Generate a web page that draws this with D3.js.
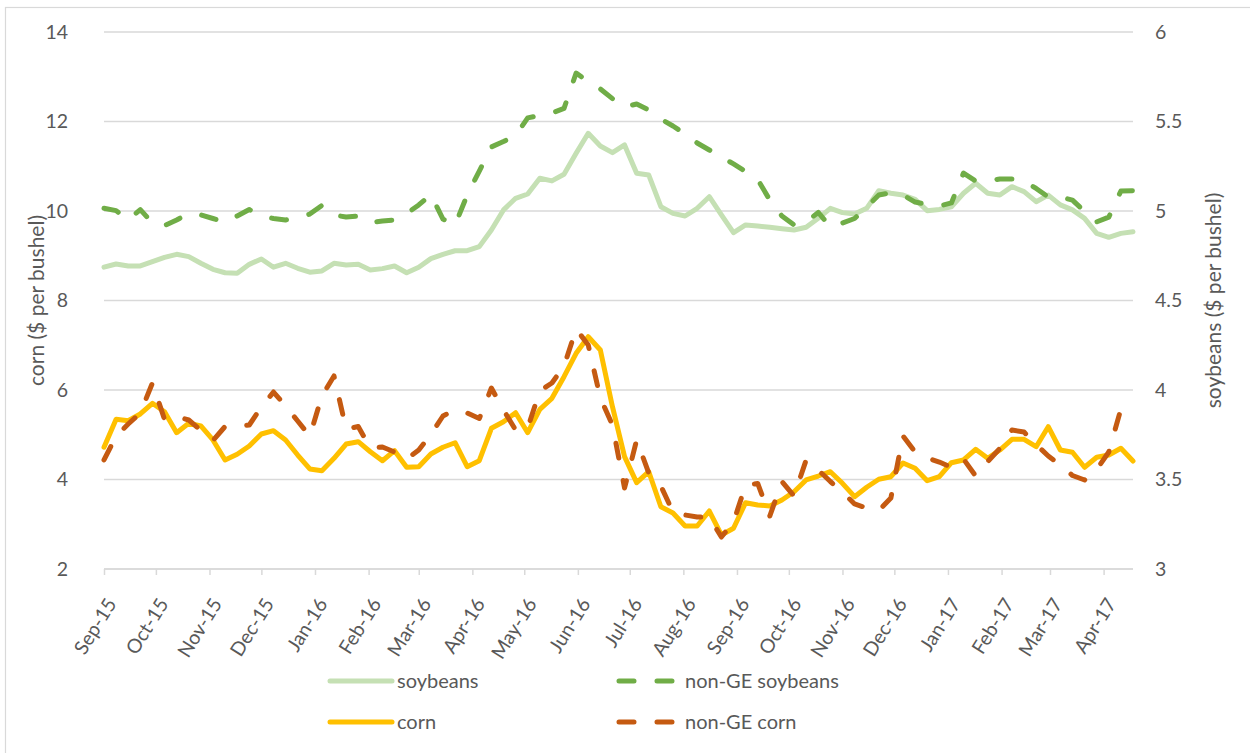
<!DOCTYPE html>
<html>
<head>
<meta charset="utf-8">
<script src="https://cdn.jsdelivr.net/npm/d3@7"></script>
<style>
  html, body { margin: 0; padding: 0; background: #ffffff; }
  svg { display: block; font-family: "Lato", "Liberation Sans", sans-serif; }
  text { fill: #595959; }
</style>
</head>
<body>
<svg id="chart" width="1250" height="753"></svg>
<script>
// Weekly price observations (Fridays)
const weeks = [
  "2015-09-04","2015-09-11","2015-09-18","2015-09-25","2015-10-02","2015-10-09","2015-10-16","2015-10-23","2015-10-30",
  "2015-11-06","2015-11-13","2015-11-20","2015-11-27","2015-12-04","2015-12-11","2015-12-18","2015-12-25",
  "2016-01-01","2016-01-08","2016-01-15","2016-01-22","2016-01-29","2016-02-05","2016-02-12","2016-02-19","2016-02-26",
  "2016-03-04","2016-03-11","2016-03-18","2016-03-25","2016-04-01","2016-04-08","2016-04-15","2016-04-22","2016-04-29",
  "2016-05-06","2016-05-13","2016-05-20","2016-05-27","2016-06-03","2016-06-10","2016-06-17","2016-06-24",
  "2016-07-01","2016-07-08","2016-07-15","2016-07-22","2016-07-29","2016-08-05","2016-08-12","2016-08-19","2016-08-26",
  "2016-09-02","2016-09-09","2016-09-16","2016-09-23","2016-09-30","2016-10-07","2016-10-14","2016-10-21","2016-10-28",
  "2016-11-04","2016-11-11","2016-11-18","2016-11-25","2016-12-02","2016-12-09","2016-12-16","2016-12-23","2016-12-30",
  "2017-01-06","2017-01-13","2017-01-20","2017-01-27","2017-02-03","2017-02-10","2017-02-17","2017-02-24",
  "2017-03-03","2017-03-10","2017-03-17","2017-03-24","2017-03-31","2017-04-07","2017-04-14","2017-04-21"
];

// Soybeans, $ per bushel (right axis)
const soybeans = [
  4.686, 4.704, 4.693, 4.693, 4.717, 4.741, 4.758, 4.745, 4.708, 4.674,
  4.655, 4.652, 4.702, 4.732, 4.686, 4.708, 4.680, 4.658, 4.665, 4.708,
  4.698, 4.702, 4.670, 4.678, 4.693, 4.655, 4.686, 4.734, 4.758, 4.778,
  4.778, 4.801, 4.894, 5.006, 5.071, 5.095, 5.183, 5.168, 5.205, 5.322,
  5.434, 5.363, 5.326, 5.369, 5.211, 5.201, 5.024, 4.987, 4.972, 5.015,
  5.080, 4.978, 4.879, 4.922, 4.916, 4.909, 4.901, 4.894, 4.909, 4.959,
  5.015, 4.991, 4.983, 5.015, 5.113, 5.099, 5.089, 5.065, 5.002, 5.009,
  5.024, 5.099, 5.155, 5.099, 5.089, 5.136, 5.108, 5.052, 5.089, 5.034,
  5.006, 4.959, 4.875, 4.853, 4.875, 4.884
];

// Non-GE soybeans, $ per bushel (right axis)
const nonGESoybeans = [
  5.015, 5.002, 4.950, 5.008, 4.933, 4.919, 4.950, 4.986, 4.978, 4.958,
  4.937, 4.972, 5.008, 4.973, 4.958, 4.950, 4.961, 4.983, 5.031, 4.978,
  4.966, 4.972, 4.936, 4.944, 4.950, 4.986, 5.034, 5.092, 4.955, 4.922,
  5.089, 5.223, 5.358, 5.388, 5.422, 5.520, 5.534, 5.547, 5.573, 5.771,
  5.721, 5.682, 5.628, 5.581, 5.598, 5.564, 5.514, 5.475, 5.430, 5.380,
  5.341, 5.302, 5.263, 5.221, 5.176, 5.061, 4.972, 4.922, 4.939, 4.992,
  4.911, 4.933, 4.958, 5.022, 5.089, 5.103, 5.089, 5.050, 5.036, 5.028,
  5.045, 5.212, 5.168, 5.168, 5.179, 5.179, 5.168, 5.126, 5.078, 5.078,
  5.061, 4.997, 4.939, 4.966, 5.112, 5.113
];

// Corn, $ per bushel (left axis)
const corn = [
  4.720, 5.345, 5.314, 5.464, 5.703, 5.515, 5.046, 5.256, 5.196, 4.883,
  4.436, 4.563, 4.749, 5.017, 5.091, 4.883, 4.547, 4.235, 4.197, 4.474,
  4.793, 4.845, 4.621, 4.420, 4.644, 4.273, 4.286, 4.570, 4.720, 4.822,
  4.286, 4.420, 5.144, 5.292, 5.493, 5.046, 5.569, 5.815, 6.297, 6.820,
  7.191, 6.894, 5.627, 4.510, 3.929, 4.174, 3.392, 3.251, 2.961, 2.961,
  3.296, 2.760, 2.910, 3.482, 3.430, 3.408, 3.542, 3.727, 3.989, 4.078,
  4.174, 3.915, 3.616, 3.826, 4.005, 4.063, 4.369, 4.250, 3.973, 4.063,
  4.375, 4.436, 4.675, 4.474, 4.659, 4.898, 4.898, 4.733, 5.180, 4.659,
  4.608, 4.273, 4.496, 4.547, 4.697, 4.413
];

// Non-GE corn, $ per bushel (left axis); no quote for the last week
const nonGECorn = [
  4.436, 4.972, 5.240, 5.486, 6.156, 5.341, 5.408, 5.330, 5.099, 4.872,
  5.184, 5.196, 5.218, 5.620, 5.955, 5.642, 5.307, 4.972, 5.866, 6.313,
  5.128, 5.184, 4.704, 4.726, 4.615, 4.458, 4.659, 5.006, 5.419, 5.553,
  5.486, 5.363, 6.045, 5.553, 5.106, 5.151, 5.978, 6.156, 6.536, 7.363,
  7.006, 5.821, 5.218, 3.810, 4.883, 4.145, 3.855, 3.274, 3.207, 3.162,
  3.162, 2.715, 3.050, 3.877, 3.911, 3.184, 3.955, 3.631, 4.436, 4.212,
  3.955, 3.721, 3.453, 3.363, 3.307, 3.587, 4.972, 4.615, 4.480, 4.391,
  4.273, 4.458, 4.078, 4.402, 4.693, 5.106, 5.061, 4.782, 4.525, 4.324,
  4.089, 3.989, 4.223, 4.615, 5.575, null
];

// Axis ticks
const cornTicks = [2, 4, 6, 8, 10, 12, 14];
const soyTicks = [3, 3.5, 4, 4.5, 5, 5.5, 6];
const monthCount = 20;

// Titles and legend entries
const leftTitle = "corn ($ per bushel)";
const rightTitle = "soybeans ($ per bushel)";
const legendNames = ["soybeans", "non-GE soybeans", "corn", "non-GE corn"];

const parse = d3.timeParse("%Y-%m-%d");
const dates = weeks.map(parse);

const svg = d3.select("#chart");
const plot = { left: 104, right: 1133, top: 32, bottom: 569 };

const colors = {
  soy: "#c5e0b4",
  soyNonGE: "#70ad47",
  corn: "#ffc000",
  cornNonGE: "#c55a11",
  grid: "#d9d9d9"
};
const lineWidth = 5;
const dashPattern = "15,23";
const tickFont = 19.5;
const titleFont = 21;
const legendFont = 20;

// Outer chart frame
svg.append("rect")
  .attr("x", 5.5).attr("y", 7.5)
  .attr("width", 1300).attr("height", 800)
  .attr("fill", "none").attr("stroke", colors.grid).attr("stroke-width", 1.2);

const x = d3.scaleTime()
  .domain([dates[0], dates[dates.length - 1]])
  .range([plot.left, plot.right]);
const yCorn = d3.scaleLinear().domain([2, 14]).range([plot.bottom, plot.top]);
const ySoy = d3.scaleLinear().domain([3, 6]).range([plot.bottom, plot.top]);

// Gridlines (left axis)
svg.append("g").selectAll("line").data(cornTicks).join("line")
  .attr("x1", plot.left).attr("x2", plot.right)
  .attr("y1", d => yCorn(d)).attr("y2", d => yCorn(d))
  .attr("stroke", colors.grid).attr("stroke-width", 1.5);

// Left axis labels
const leftAxis = d3.axisLeft(yCorn).tickValues(cornTicks).tickSize(0).tickPadding(36).tickFormat(d3.format("d"));
const gl = svg.append("g").attr("transform", `translate(${plot.left},0)`).call(leftAxis);
gl.select(".domain").remove();
gl.selectAll("text").attr("font-size", tickFont).attr("fill", "#595959").attr("font-family", "Lato, sans-serif");

// Right axis labels
const rightAxis = d3.axisRight(ySoy).tickValues(soyTicks).tickSize(0).tickPadding(22).tickFormat(d => String(d));
const gr = svg.append("g").attr("transform", `translate(${plot.right},0)`).call(rightAxis);
gr.select(".domain").remove();
gr.selectAll("text").attr("font-size", tickFont).attr("fill", "#595959").attr("font-family", "Lato, sans-serif");

// Bottom axis: monthly ticks from the first observation
const monthTicks = d3.range(monthCount).map(k => d3.timeMonth.offset(dates[0], k));
const bottomAxis = d3.axisBottom(x).tickValues(monthTicks).tickSize(6).tickPadding(0).tickFormat(d3.timeFormat("%b-%y"));
const gb = svg.append("g").attr("transform", `translate(0,${plot.bottom})`).call(bottomAxis);
gb.select(".domain").attr("stroke", colors.grid).attr("stroke-width", 1.5)
  .attr("d", `M${plot.left},0H${plot.right}`);
gb.selectAll(".tick line").attr("stroke", colors.grid).attr("stroke-width", 1.5);
gb.selectAll(".tick text")
  .attr("font-size", tickFont).attr("fill", "#595959").attr("font-family", "Lato, sans-serif")
  .attr("text-anchor", "end")
  .attr("dy", "0.35em")
  .attr("transform", "translate(7,31) rotate(-58)")
  .attr("y", 0).attr("x", 0);

// Axis titles
svg.append("text")
  .attr("transform", `translate(37,${(plot.top + plot.bottom) / 2}) rotate(-90)`)
  .attr("text-anchor", "middle").attr("dy", "0.35em")
  .attr("font-size", titleFont).text(leftTitle);
svg.append("text")
  .attr("transform", `translate(1214,${(plot.top + plot.bottom) / 2}) rotate(-90)`)
  .attr("text-anchor", "middle").attr("dy", "0.35em")
  .attr("font-size", titleFont).text(rightTitle);

// Series
const series = [
  { values: corn, y: yCorn, color: colors.corn, dash: null },
  { values: nonGECorn, y: yCorn, color: colors.cornNonGE, dash: dashPattern },
  { values: soybeans, y: ySoy, color: colors.soy, dash: null },
  { values: nonGESoybeans, y: ySoy, color: colors.soyNonGE, dash: dashPattern }
];

series.forEach(s => {
  const pts = s.values.map((v, i) => ({ date: dates[i], v })).filter(d => d.v != null);
  const line = d3.line().x(d => x(d.date)).y(d => s.y(d.v));
  svg.append("path")
    .datum(pts)
    .attr("d", line)
    .attr("fill", "none")
    .attr("stroke", s.color)
    .attr("stroke-width", lineWidth)
    .attr("stroke-linejoin", "round")
    .attr("stroke-linecap", "round")
    .attr("stroke-dasharray", s.dash);
});

// Legend
const legendItems = [
  { name: legendNames[0], color: colors.soy, dash: null, x: 330, y: 681 },
  { name: legendNames[1], color: colors.soyNonGE, dash: dashPattern, x: 619, y: 681 },
  { name: legendNames[2], color: colors.corn, dash: null, x: 330, y: 722 },
  { name: legendNames[3], color: colors.cornNonGE, dash: dashPattern, x: 619, y: 722 }
];
const lg = svg.append("g");
legendItems.forEach(item => {
  const len = item.dash ? 53 : 62;
  lg.append("line")
    .attr("x1", item.x).attr("x2", item.x + len)
    .attr("y1", item.y).attr("y2", item.y)
    .attr("stroke", item.color).attr("stroke-width", lineWidth)
    .attr("stroke-linecap", "round")
    .attr("stroke-dasharray", item.dash);
  lg.append("text")
    .attr("x", item.dash ? item.x + 66 : item.x + 67)
    .attr("y", item.y).attr("dy", "0.35em")
    .attr("font-size", legendFont).text(item.name);
});
</script>
</body>
</html>
